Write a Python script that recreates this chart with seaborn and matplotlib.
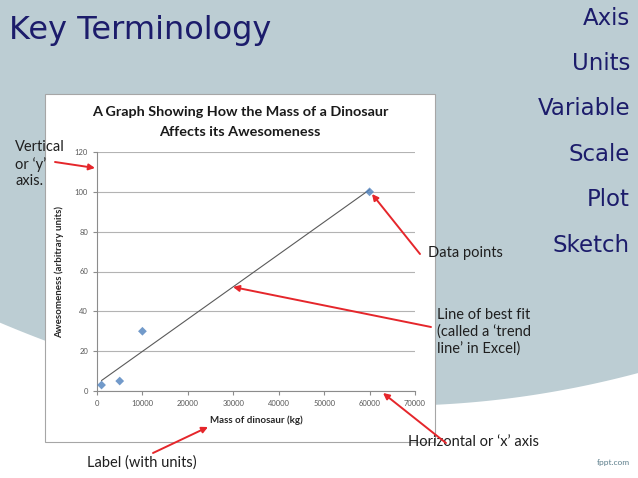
import numpy as np
import matplotlib
matplotlib.use("Agg")
import matplotlib.pyplot as plt
import seaborn as sns
from matplotlib.patches import Rectangle

# data
mass_kg = [1000, 5000, 10000, 60000]
awesomeness = [3, 5, 30, 100]
x_ticks = [0, 10000, 20000, 30000, 40000, 50000, 60000, 70000]
y_ticks = [0, 20, 40, 60, 80, 100, 120]
terms = ["Axis", "Units", "Variable", "Scale", "Plot", "Sketch"]

W, H = 638, 478
sns.set_style("white")
plt.rcParams["font.family"] = ["Lato", "DejaVu Sans"]

fig = plt.figure(figsize=(W / 100, H / 100), dpi=100)
fig.patch.set_facecolor("white")

# slide background (pixel coordinates, y down)
bg = fig.add_axes([0, 0, 1, 1])
bg.set_xlim(0, W)
bg.set_ylim(H, 0)
bg.axis("off")
xs = np.linspace(0, W, 300)
edge = 405.8 - 0.000541 * (xs - 392) ** 2
bg.fill_between(xs, 0, edge, color="#bccdd3", lw=0)
bg.add_patch(Rectangle((45, 94), 390, 348, facecolor="white",
                       edgecolor="#a6a6a6", lw=0.8))

# the chart itself
left, right, top, bottom = 97, 415, 152, 391
ax = fig.add_axes([left / W, 1 - bottom / H, (right - left) / W, (bottom - top) / H])
ax.set_facecolor("none")
sns.regplot(x=mass_kg, y=awesomeness, ci=None, ax=ax, marker="D",
            scatter_kws=dict(color="#4f81bd", s=20, edgecolor="none", zorder=3),
            line_kws=dict(color="#5a5a5a", lw=0.8, zorder=2))
ax.set_xlim(0, 70000)
ax.set_ylim(0, 120)
ax.set_xticks(x_ticks)
ax.set_yticks(y_ticks)
ax.tick_params(axis="both", labelsize=5.5, labelcolor="#595959", colors="#8c8c8c",
               length=3, width=0.8, direction="out", bottom=True, left=True)
ax.yaxis.grid(True, color="#b3b3b3", lw=0.8)
ax.xaxis.grid(False)
for s in ["top", "right"]:
    ax.spines[s].set_visible(False)
for s in ["left", "bottom"]:
    ax.spines[s].set_color("#8c8c8c")
    ax.spines[s].set_linewidth(0.8)
ax.set_xlabel("Mass of dinosaur (kg)", fontsize=7, fontweight="bold", labelpad=6)
ax.set_ylabel("Awesomeness (arbitrary units)", fontsize=7, fontweight="bold", labelpad=8)

# overlay for slide text and arrows
ov = fig.add_axes([0, 0, 1, 1], zorder=10)
ov.set_xlim(0, W)
ov.set_ylim(H, 0)
ov.axis("off")

ov.text(240, 112, "A Graph Showing How the Mass of a Dinosaur", ha="center", va="center",
        fontsize=10.4, fontweight="bold", color="#1a1a1a")
ov.text(240, 132, "Affects its Awesomeness", ha="center", va="center",
        fontsize=10.4, fontweight="bold", color="#1a1a1a")

navy = "#1c1c6b"
ov.text(9, 30, "Key Terminology", ha="left", va="center", fontsize=23, color=navy,
        family=["DejaVu Sans"])
for i, t in enumerate(terms):
    ov.text(630, 18 + i * 45.4, t, ha="right", va="center", fontsize=16.5, color=navy,
            family=["DejaVu Sans"])

dark = "#1f1f1f"
red = "#e5262b"
notes = [
    ("Vertical\nor \u2018y\u2019\naxis.", 15, 164, (55, 162), (95, 168)),
    ("Data points", 428, 253, (420, 254), (372, 194)),
    ("Line of best fit\n(called a \u2018trend\nline\u2019 in Excel)", 437, 332, (431, 327), (233, 287)),
    ("Horizontal or \u2018x\u2019 axis", 408, 442, (446, 443), (383, 393)),
    ("Label (with units)", 87, 463, (153, 453), (208, 427)),
]
for label, tx, ty, tail, head in notes:
    ov.text(tx, ty, label, ha="left", va="center", fontsize=10.5, color=dark,
            linespacing=1.25)
    ov.annotate("", xy=head, xytext=tail,
                arrowprops=dict(arrowstyle="-|>", color=red, lw=1.4,
                                mutation_scale=9, shrinkA=0, shrinkB=0))

ov.text(630, 463, "fppt.com", ha="right", va="center", fontsize=6, color="#5d7f8c")

fig.savefig("out.png", dpi=100)
